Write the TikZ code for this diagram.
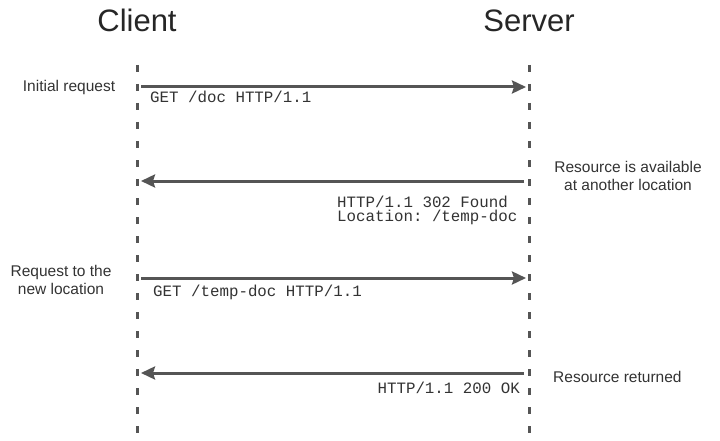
\documentclass[tikz,border=0pt]{standalone}
\usepackage{fontspec}
\setmainfont{Liberation Sans}
\setmonofont{Liberation Mono}
\usetikzlibrary{arrows.meta}
\definecolor{linegray}{HTML}{555555}
\definecolor{textgray}{HTML}{333333}
\begin{document}
\begin{tikzpicture}[x=1pt,y=-1pt,
  lifeline/.style={draw=linegray,line width=3pt,dash pattern=on 7pt off 12pt},
  msg/.style={draw=linegray,line width=3pt,-{Stealth[length=14pt,width=13pt,inset=2pt]}},
  title/.style={font=\fontsize{31}{36}\selectfont,text=black!85,anchor=base,inner sep=0pt},
  note/.style={font=\fontsize{15.5}{16}\selectfont,text=textgray,align=center,inner sep=0pt},
  code/.style={font=\ttfamily\fontsize{15.8}{14.5}\selectfont,text=textgray,inner sep=0pt,anchor=base west}]
\useasboundingbox (0,0) rectangle (720,441);
\fill[white] (0,0) rectangle (720,441);
% titles
\node[title] (client) at (137,32) {Client};
\node[title] (server) at (529,32) {Server};
% lifelines
\coordinate (ctop) at (137,65);
\coordinate (cbot) at (137,441);
\coordinate (stop) at (529,65);
\coordinate (sbot) at (529,441);
\draw[lifeline] (ctop) -- (cbot);
\draw[lifeline] (stop) -- (sbot);
% message endpoints
\coordinate (a1s) at (141,87);  \coordinate (a1e) at (526,87);
\coordinate (a2s) at (524,181); \coordinate (a2e) at (141,181);
\coordinate (a3s) at (141,278); \coordinate (a3e) at (526,278);
\coordinate (a4s) at (524,373); \coordinate (a4e) at (141,373);
\draw[msg] (a1s) -- (a1e);
\draw[msg] (a2s) -- (a2e);
\draw[msg] (a3s) -- (a3e);
\draw[msg] (a4s) -- (a4e);
% code labels
\node[code] (m1) at (150,103) {GET /doc HTTP/1.1};
\node[code] (m2a) at (337,207) {HTTP/1.1 302 Found};
\node[code] (m2b) at (337,221.5) {Location: /temp-doc};
\node[code] (m3) at (153,296) {GET /temp-doc HTTP/1.1};
\node[code,anchor=base east] (m4) at (520,393) {HTTP/1.1 200 OK};
% notes
\node[note,anchor=base] (n1) at (69,92) {Initial request};
\node[note,anchor=base] (n2a) at (628,172) {Resource is available};
\node[note,anchor=base] (n2b) at (628,190) {at another location};
\node[note,anchor=base] (n3a) at (61,276) {Request to the};
\node[note,anchor=base] (n3b) at (61,294) {new location};
\node[note,anchor=base west] (n4) at (553,382) {Resource returned};
\end{tikzpicture}
\end{document}
